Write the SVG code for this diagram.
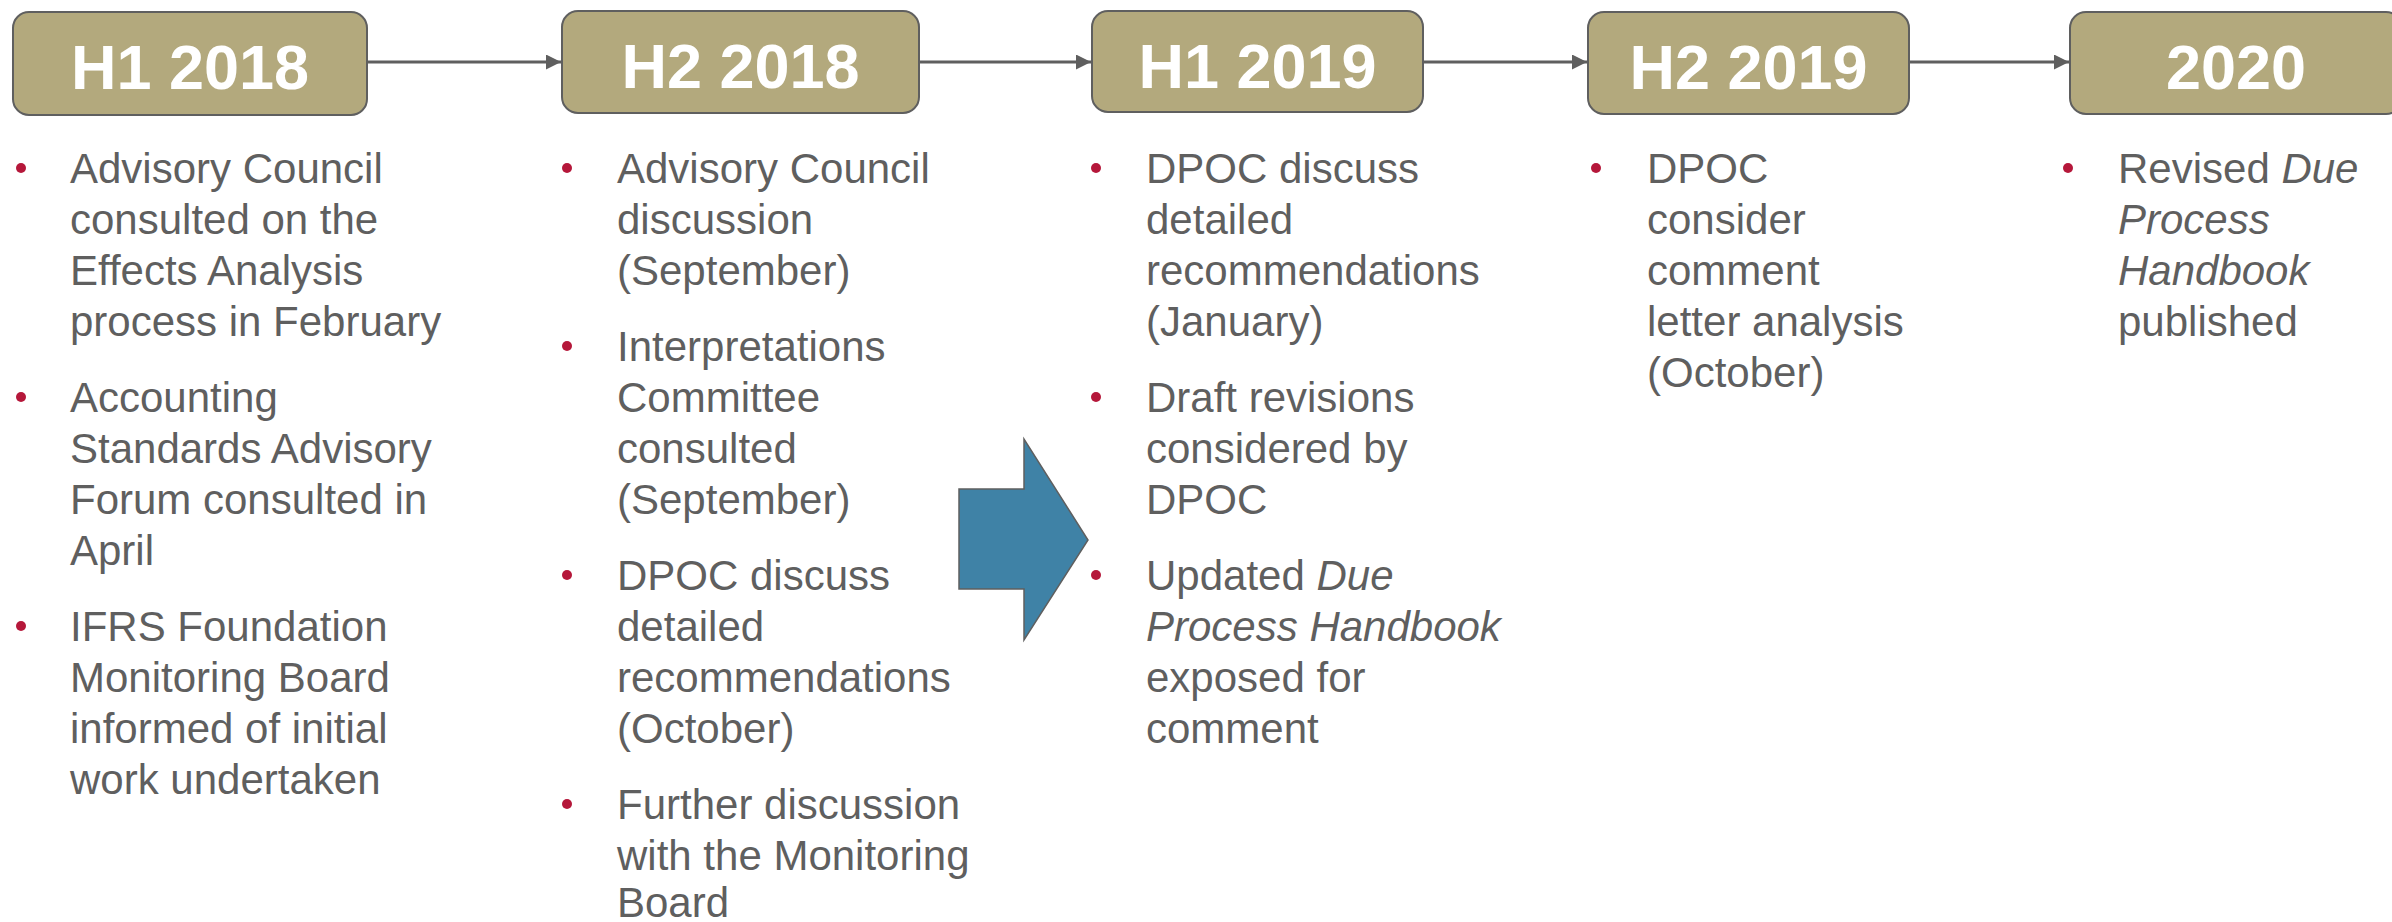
<svg xmlns="http://www.w3.org/2000/svg" width="2392" height="922" viewBox="0 0 2392 922">
<style>
.box{fill:#B3A97D;stroke:#5f5f5f;stroke-width:2}
.hd{font-family:"Liberation Sans",Arial,sans-serif;font-weight:bold;font-size:63px;fill:#ffffff;text-anchor:middle}
.tx{font-family:"Liberation Sans",Arial,sans-serif;font-size:42px;fill:#5f5f5f}
.it{font-style:italic}
.dot{fill:#B5173A}
.con{stroke:#5f5f5f;stroke-width:3;fill:none}
</style>
<defs>
<marker id="ah" markerWidth="5" markerHeight="5" refX="5" refY="2.5" orient="auto" markerUnits="strokeWidth">
<path d="M0,0 L5,2.5 L0,5 Z" fill="#5f5f5f"/>
</marker>
</defs>
<g id="connectors">
<line class="con" x1="367" y1="62" x2="561" y2="62" marker-end="url(#ah)"/>
<line class="con" x1="919" y1="62" x2="1091" y2="62" marker-end="url(#ah)"/>
<line class="con" x1="1423" y1="62" x2="1587" y2="62" marker-end="url(#ah)"/>
<line class="con" x1="1909" y1="62" x2="2069" y2="62" marker-end="url(#ah)"/>
</g>
<g id="h1-2018">
<rect class="box" x="13" y="12" width="354" height="103" rx="16"/>
<text class="hd" x="190" y="89">H1 2018</text>
</g>
<g id="h2-2018">
<rect class="box" x="562" y="11" width="357" height="102" rx="16"/>
<text class="hd" x="740.5" y="88">H2 2018</text>
</g>
<g id="h1-2019">
<rect class="box" x="1092" y="11" width="331" height="101" rx="16"/>
<text class="hd" x="1257.5" y="88">H1 2019</text>
</g>
<g id="h2-2019">
<rect class="box" x="1588" y="12" width="321" height="102" rx="16"/>
<text class="hd" x="1748.5" y="89">H2 2019</text>
</g>
<g id="y2020">
<rect class="box" x="2070" y="12" width="332" height="102" rx="16"/>
<text class="hd" x="2236" y="89">2020</text>
</g>
<g id="col1">
<circle class="dot" cx="21" cy="168" r="5"/>
<circle class="dot" cx="21" cy="397" r="5"/>
<circle class="dot" cx="21" cy="626" r="5"/>
<text class="tx" x="70" y="183">Advisory Council</text>
<text class="tx" x="70" y="234">consulted on the</text>
<text class="tx" x="70" y="285">Effects Analysis</text>
<text class="tx" x="70" y="336">process in February</text>
<text class="tx" x="70" y="412">Accounting</text>
<text class="tx" x="70" y="463">Standards Advisory</text>
<text class="tx" x="70" y="514">Forum consulted in</text>
<text class="tx" x="70" y="565">April</text>
<text class="tx" x="70" y="641">IFRS Foundation</text>
<text class="tx" x="70" y="692">Monitoring Board</text>
<text class="tx" x="70" y="743">informed of initial</text>
<text class="tx" x="70" y="794">work undertaken</text>
</g>
<g id="col2">
<circle class="dot" cx="567" cy="168" r="5"/>
<circle class="dot" cx="567" cy="346" r="5"/>
<circle class="dot" cx="567" cy="575" r="5"/>
<circle class="dot" cx="567" cy="804" r="5"/>
<text class="tx" x="617" y="183">Advisory Council</text>
<text class="tx" x="617" y="234">discussion</text>
<text class="tx" x="617" y="285">(September)</text>
<text class="tx" x="617" y="361">Interpretations</text>
<text class="tx" x="617" y="412">Committee</text>
<text class="tx" x="617" y="463">consulted</text>
<text class="tx" x="617" y="514">(September)</text>
<text class="tx" x="617" y="590">DPOC discuss</text>
<text class="tx" x="617" y="641">detailed</text>
<text class="tx" x="617" y="692">recommendations</text>
<text class="tx" x="617" y="743">(October)</text>
<text class="tx" x="617" y="819">Further discussion</text>
<text class="tx" x="617" y="870">with the Monitoring</text>
<text class="tx" x="617" y="917">Board</text>
</g>
<g id="big-arrow">
<polygon points="959,489 1024,489 1024,439 1088,540 1024,640 1024,589 959,589" fill="#3F82A6" stroke="#5f5f5f" stroke-width="1.5"/>
</g>
<g id="col3">
<circle class="dot" cx="1096" cy="168" r="5"/>
<circle class="dot" cx="1096" cy="397" r="5"/>
<circle class="dot" cx="1096" cy="575" r="5"/>
<text class="tx" x="1146" y="183">DPOC discuss</text>
<text class="tx" x="1146" y="234">detailed</text>
<text class="tx" x="1146" y="285">recommendations</text>
<text class="tx" x="1146" y="336">(January)</text>
<text class="tx" x="1146" y="412">Draft revisions</text>
<text class="tx" x="1146" y="463">considered by</text>
<text class="tx" x="1146" y="514">DPOC</text>
<text class="tx" x="1146" y="590">Updated <tspan class="it">Due</tspan></text>
<text class="tx it" x="1146" y="641">Process Handbook</text>
<text class="tx" x="1146" y="692">exposed for</text>
<text class="tx" x="1146" y="743">comment</text>
</g>
<g id="col4">
<circle class="dot" cx="1596" cy="168" r="5"/>
<text class="tx" x="1647" y="183">DPOC</text>
<text class="tx" x="1647" y="234">consider</text>
<text class="tx" x="1647" y="285">comment</text>
<text class="tx" x="1647" y="336">letter analysis</text>
<text class="tx" x="1647" y="387">(October)</text>
</g>
<g id="col5">
<circle class="dot" cx="2068" cy="168" r="5"/>
<text class="tx" x="2118" y="183">Revised <tspan class="it">Due</tspan></text>
<text class="tx it" x="2118" y="234">Process</text>
<text class="tx it" x="2118" y="285">Handbook</text>
<text class="tx" x="2118" y="336">published</text>
</g>
</svg>
